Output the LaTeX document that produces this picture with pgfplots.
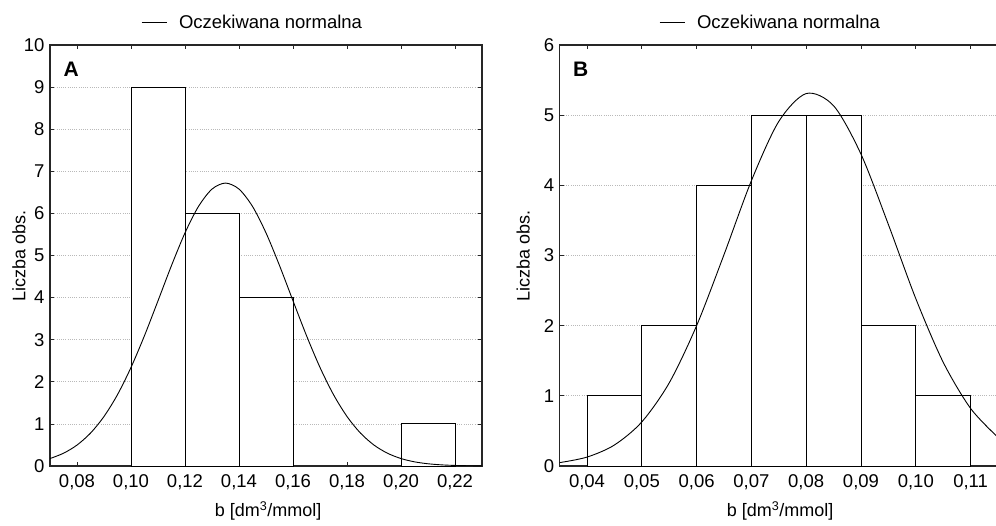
\documentclass[border=0pt]{standalone}
\usepackage{fontspec}
\setmainfont{Liberation Sans}
\usepackage{pgfplots}
\pgfplotsset{compat=1.18}

\pgfplotsset{
  common/.style={
    scale only axis,
    anchor=south west,
    height=421pt,
    ymin=0,
    tick align=inside,
    major tick length=4pt,
    ymajorgrids,
    grid style={dash pattern=on 1pt off 1.2pt, gray!55, line width=0.7pt},
    axis line style={line width=1.1pt, black!85},
    tick style={black!85, line width=0.8pt},
    /pgf/number format/assume math mode=true,
    every tick label/.append style={font=\fontsize{18.5}{21}\selectfont},
    label style={font=\fontsize{18}{21}\selectfont},
    x tick label style={yshift=-5pt, /pgf/number format/fixed, /pgf/number format/fixed zerofill,
      /pgf/number format/precision=2, /pgf/number format/use comma},
    y tick label style={xshift=-2pt},
    xtick pos=both,
    xlabel={b [dm\textsuperscript{3}/mmol]},
    ylabel={Liczba obs.},
    legend image code/.code={\draw[black, line width=0.8pt] (0pt,0pt) -- (25pt,0pt); \path (35pt,0pt);},
    legend style={draw=none, fill=none, inner xsep=0pt, inner ysep=0pt,
      anchor=west, font=\fontsize{18.5}{21}\selectfont},
  },
  bars/.style={ybar, bar width=#1, fill=white, draw=black, line width=0.9pt, forget plot},
  curve/.style={black, line width=0.9pt, smooth, no marks},
}

\begin{document}
\begin{tikzpicture}
% ---------------- Panel A ----------------
\begin{axis}[common,
  at={(50pt,59pt)}, width=432pt,
  xmin=0.07, xmax=0.23, ymax=10,
  xtick={0.08,0.1,0.12,0.14,0.16,0.18,0.2,0.22},
  ytick={0,1,2,3,4,5,6,7,8,9,10},
  ytick pos=both,
  xlabel style={at={(axis description cs:0.505,-0.107)}, anchor=center},
  ylabel style={at={(axis description cs:-0.072,0.5)}, anchor=center},
  legend style={at={(0.2106,1.054)}},
]
\addplot[bars=0.02] coordinates {(0.11,9) (0.13,6) (0.15,4) (0.21,1)};
\addplot[curve] coordinates {
 (0.070,0.177) (0.075,0.303) (0.080,0.497) (0.085,0.781) (0.090,1.176)
 (0.095,1.695) (0.100,2.341) (0.105,3.097) (0.110,3.924) (0.115,4.762)
 (0.120,5.537) (0.125,6.166) (0.130,6.577) (0.135,6.720) (0.140,6.577)
 (0.145,6.166) (0.150,5.537) (0.155,4.762) (0.160,3.924) (0.165,3.097)
 (0.170,2.341) (0.175,1.695) (0.180,1.176) (0.185,0.781) (0.190,0.497)
 (0.195,0.303) (0.200,0.177) (0.205,0.099) (0.210,0.053) (0.215,0.027)
 (0.220,0.013) (0.225,0.006) (0.230,0.003)};
\addlegendentry{Oczekiwana normalna}
\node[font=\bfseries\fontsize{21}{24}\selectfont] at (rel axis cs:0.049,0.943) {A};
\end{axis}
% ---------------- Panel B ----------------
\begin{axis}[common,
  at={(559.6pt,59pt)}, width=438.4pt,
  xmin=0.035, xmax=0.115, ymax=6,
  xtick={0.04,0.05,0.06,0.07,0.08,0.09,0.1,0.11},
  ytick={0,1,2,3,4,5,6},
  ytick pos=left,
  xlabel style={at={(axis description cs:0.503,-0.107)}, anchor=center},
  ylabel style={at={(axis description cs:-0.083,0.5)}, anchor=center},
  legend style={at={(0.2267,1.054)}},
]
\addplot[bars=0.01] coordinates {(0.045,1) (0.055,2) (0.065,4) (0.075,5) (0.085,5) (0.095,2) (0.105,1)};
\addplot[curve] coordinates {
 (0.035,0.048) (0.040,0.127) (0.045,0.299) (0.050,0.628) (0.055,1.184)
 (0.060,2.000) (0.065,3.012) (0.070,4.066) (0.075,4.911) (0.080,5.308)
 (0.085,5.134) (0.090,4.444) (0.095,3.441) (0.100,2.385) (0.105,1.479)
 (0.110,0.821) (0.115,0.408)};
\addlegendentry{Oczekiwana normalna}
\node[font=\bfseries\fontsize{21}{24}\selectfont] at (rel axis cs:0.048,0.943) {B};
\end{axis}
\pgfresetboundingbox
\path[use as bounding box] (0pt,0pt) rectangle (996pt,525pt);
\end{tikzpicture}
\end{document}
